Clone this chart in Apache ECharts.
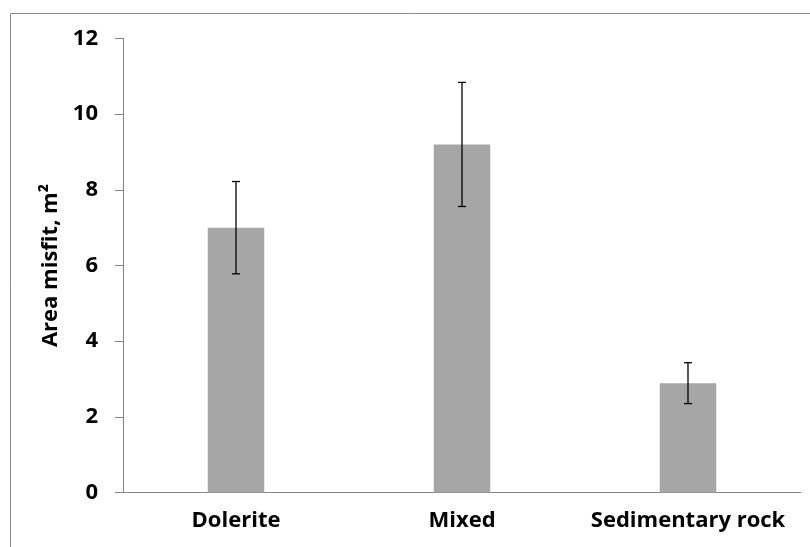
<!DOCTYPE html>
<html>
<head>
<meta charset="utf-8">
<script src="https://cdn.jsdelivr.net/npm/echarts@6/dist/echarts.min.js"></script>
<style>html,body{margin:0;padding:0;background:#fff;}#chart{width:810px;height:547px;}</style>
</head>
<body>
<div id="chart"></div>
<script>
const categories = ['Dolerite', 'Mixed', 'Sedimentary rock'];
const meanValues = [7.0, 9.2, 2.89];
const errorValues = [1.22, 1.64, 0.54];
const yTicks = [0, 2, 4, 6, 8, 10, 12];

const chart = echarts.init(document.getElementById('chart'), null, {renderer: 'canvas'});
const font = '"Open Sans", "DejaVu Sans", sans-serif';
const errData = categories.map((c, i) => [i, meanValues[i] - errorValues[i], meanValues[i] + errorValues[i]]);

chart.setOption({
  animation: false,
  backgroundColor: '#fff',
  graphic: [{
    type: 'rect', shape: {x: 10.5, y: 13.5, width: 900, height: 600},
    style: {fill: 'none', stroke: '#8c8c8c', lineWidth: 1}, silent: true
  }],
  grid: {left: 123, right: 9, top: 38.5, bottom: 54.5, containLabel: false},
  xAxis: {
    type: 'category', data: categories,
    axisLine: {lineStyle: {color: '#868686', width: 1}},
    axisTick: {show: false},
    axisLabel: {interval: 0, color: '#000', fontFamily: font, fontWeight: 'bold', fontSize: 22, margin: 17}
  },
  yAxis: {
    type: 'value', min: yTicks[0], max: yTicks[yTicks.length - 1], interval: 2,
    name: 'Area misfit, m²', nameLocation: 'middle', nameGap: 60,
    nameTextStyle: {color: '#000', fontFamily: font, fontWeight: 'bold', fontSize: 22},
    axisLine: {show: true, lineStyle: {color: '#868686', width: 1}},
    axisTick: {show: true, inside: false, length: 8, lineStyle: {color: '#868686'}},
    splitLine: {show: false},
    axisLabel: {color: '#000', fontFamily: font, fontWeight: 'bold', fontSize: 22, margin: 25}
  },
  series: [{
    type: 'bar', data: meanValues, barWidth: '25%',
    itemStyle: {color: '#a6a6a6'}
  }, {
    type: 'custom', data: errData, z: 10,
    renderItem: function (params, api) {
      const x = api.value(0);
      const lo = api.coord([x, api.value(1)]);
      const hi = api.coord([x, api.value(2)]);
      const hw = 4;
      const st = {stroke: '#000', lineWidth: 1.3};
      return {type: 'group', children: [
        {type: 'line', shape: {x1: hi[0], y1: hi[1], x2: lo[0], y2: lo[1]}, style: st},
        {type: 'line', shape: {x1: hi[0] - hw, y1: hi[1], x2: hi[0] + hw, y2: hi[1]}, style: st},
        {type: 'line', shape: {x1: lo[0] - hw, y1: lo[1], x2: lo[0] + hw, y2: lo[1]}, style: st}
      ]};
    }
  }]
});
</script>
</body>
</html>
